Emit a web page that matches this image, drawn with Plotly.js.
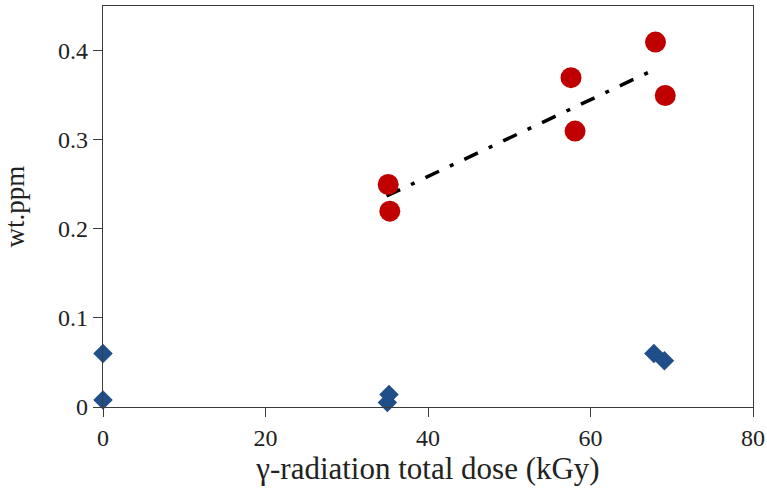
<!DOCTYPE html>
<html>
<head>
<meta charset="utf-8">
<script src="https://cdn.plot.ly/plotly-3.0.1.min.js"></script>
<style>html,body{margin:0;padding:0;background:#fff;}#chart{width:767px;height:493px;}</style>
</head>
<body>
<div id="chart"></div>
<script>
// Data
const redDose = [35.1, 35.3, 57.6, 58.1, 68.0, 69.2];
const redPpm  = [0.250, 0.220, 0.370, 0.310, 0.410, 0.350];
const blueDose = [0, 0, 35.2, 35.0, 67.8, 69.1];
const bluePpm  = [0.060, 0.008, 0.014, 0.005, 0.060, 0.052];
const trendDose = [34.9, 67.6];
const trendPpm  = [0.237, 0.378];
const xTicks = [0, 20, 40, 60, 80];
const yTicks = [0, 0.1, 0.2, 0.3, 0.4];
const yTickText = ['0', '0.1', '0.2', '0.3', '0.4'];

const traces = [
  {x: trendDose, y: trendPpm, mode: 'lines', type: 'scatter',
   line: {color: '#000', width: 3.5, dash: '15px,12px,4px,12px'}, hoverinfo: 'skip'},
  {x: redDose, y: redPpm, mode: 'markers', type: 'scatter',
   marker: {color: '#C00000', size: 21, symbol: 'circle'}},
  {x: blueDose, y: bluePpm, mode: 'markers', type: 'scatter', cliponaxis: false,
   marker: {color: '#1F4E89', size: 15, symbol: 'diamond'}}
];

const fam = '"Liberation Serif", "Times New Roman", serif';
const tickFont = {family: fam, size: 24, color: '#222'};
const layout = {
  width: 767, height: 493,
  margin: {l: 103, r: 14, t: 6, b: 86},
  showlegend: false,
  paper_bgcolor: '#fff', plot_bgcolor: '#fff',
  font: tickFont,
  xaxis: {
    range: [0, 80], tickvals: xTicks, ticktext: xTicks.map(String),
    showgrid: false, zeroline: false, showline: true, mirror: true,
    linecolor: '#3a3a3a', linewidth: 1.3, ticks: 'outside', ticklen: 9, tickcolor: '#3a3a3a',
    tickfont: tickFont,
    title: {text: 'γ-radiation total dose (kGy)', font: {family: fam, size: 31, color: '#222'}, standoff: 7}
  },
  yaxis: {
    range: [0, 0.4505], tickvals: yTicks, ticktext: yTickText,
    showgrid: false, zeroline: false, showline: true, mirror: true,
    linecolor: '#3a3a3a', linewidth: 1.3, ticks: 'outside', ticklen: 9, tickcolor: '#3a3a3a',
    tickfont: tickFont,
    title: {text: 'wt.ppm', font: {family: fam, size: 27, color: '#222'}, standoff: 26}
  }
};
Plotly.newPlot('chart', traces, layout, {staticPlot: true, displayModeBar: false});
</script>
</body>
</html>
